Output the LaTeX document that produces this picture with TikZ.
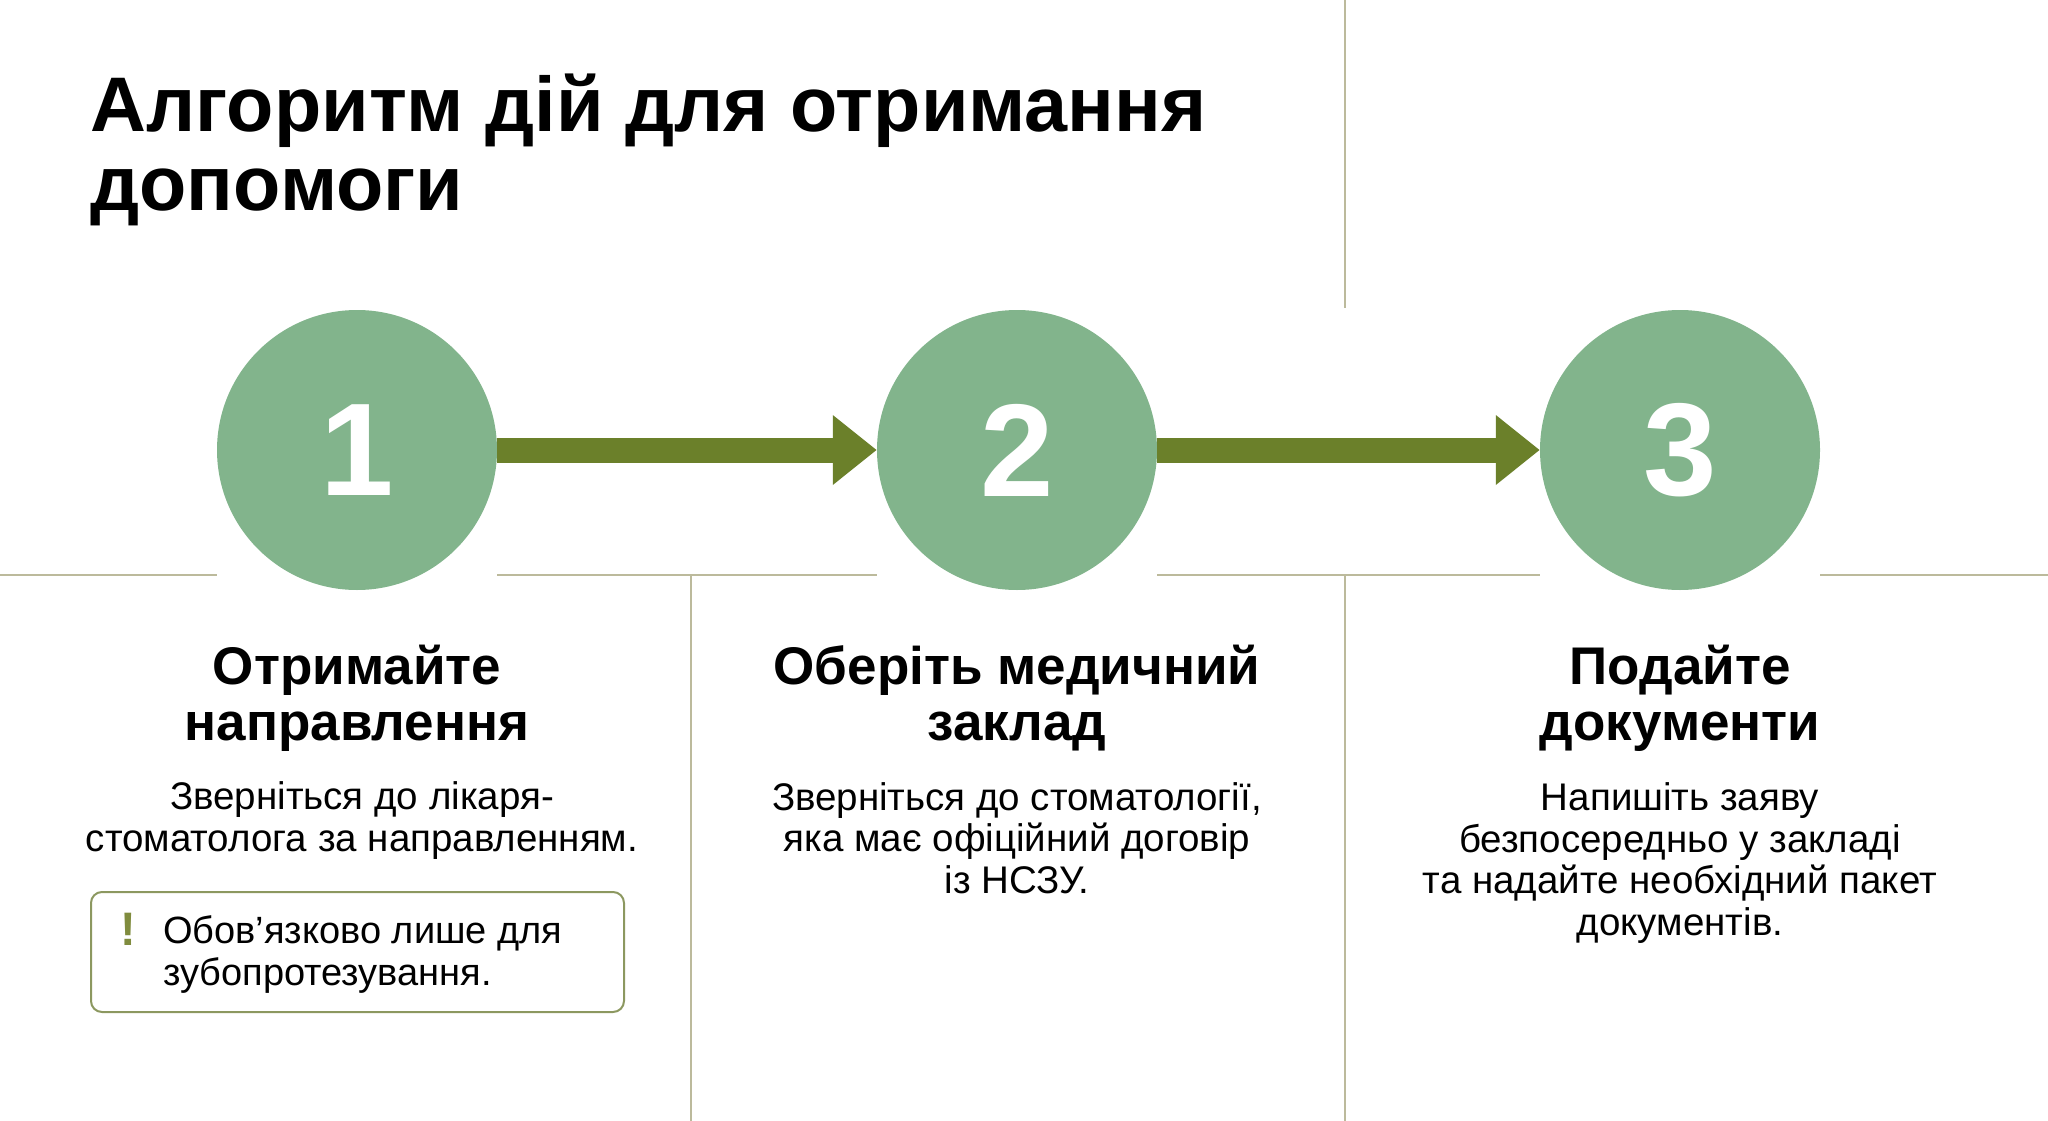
\documentclass[tikz,border=0pt]{standalone}
\usepackage{fontspec}
\setmainfont{Liberation Sans}
\usetikzlibrary{arrows.meta}
\definecolor{stepgreen}{RGB}{130,180,140}
\definecolor{arrowolive}{RGB}{107,128,42}
\definecolor{rulegray}{RGB}{188,186,156}
\definecolor{noteline}{RGB}{140,152,96}
\definecolor{bangolive}{RGB}{128,140,62}

\begin{document}
\begin{tikzpicture}[x=1pt,y=-1pt,
	num/.style={circle,fill=stepgreen,minimum size=280pt,inner sep=0pt,text=white,font=\fontsize{132}{132}\selectfont\bfseries},
	flow/.style={arrowolive,line width=25pt,-{Triangle[length=44pt,width=67pt]}},
	sep/.style={rulegray,line width=2pt},
	head/.style={anchor=base,align=center,font=\fontsize{53}{56}\selectfont\bfseries},
	body/.style={anchor=base,align=center,font=\fontsize{38.5}{41.5}\selectfont}]
	\useasboundingbox (0,0) rectangle (2048,1121);
	\node[anchor=base west,align=left,font=\fontsize{77.4}{79}\selectfont\bfseries] (title) at (87,210) {Алгоритм дій для отримання\\допомоги};
	\node[num] (s1) at (357,450) {1};
	\node[num] (s2) at (1017,450) {2};
	\node[num] (s3) at (1680,450) {3};
	\draw[flow] (s1) -- (s2);
	\draw[flow] (s2) -- (s3);
	\coordinate (h0) at (0,575);
	\coordinate (h1) at (2048,575);
	\coordinate (v1a) at (691,575);
	\coordinate (v1b) at (691,1121);
	\coordinate (v2a) at (1345,0);
	\coordinate (v2b) at (1345,308);
	\coordinate (v2c) at (1345,575);
	\coordinate (v2d) at (1345,1121);
	\draw[sep] (h0) -- (s1.west|-h0) (s1.east|-h0) -- (s2.west|-h0) (s2.east|-h0) -- (s3.west|-h0) (s3.east|-h0) -- (h1);
	\draw[sep] (v1a) -- (v1b) (v2a) -- (v2b) (v2c) -- (v2d);
	\node[head] (t1) at (357,740) {Отримайте\\направлення};
	\node[head] (t2) at (1017,740) {Оберіть медичний\\заклад};
	\node[head] (t3) at (1680,740) {Подайте\\документи};
	\node[body] (d1) at (362,851) {Зверніться до лікаря-\\стоматолога за направленням.};
	\node[body] (d2) at (1017,893) {Зверніться до стоматології,\\яка має офіційний договір\\із НСЗУ.};
	\node[body] (d3) at (1680,935) {Напишіть заяву\\безпосередньо у закладі\\та надайте необхідний пакет\\документів.};
	\node[draw=noteline,line width=2pt,rounded corners=11pt,minimum width=533pt,minimum height=120pt] (note) at (357.5,952) {};
	\node[anchor=base,text=bangolive,font=\fontsize{47}{47}\selectfont\bfseries] (bang) at (128,945) {!};
	\node[anchor=base west,align=left,inner sep=0pt,font=\fontsize{38}{42}\selectfont] (notetext) at (163,985) {Обов’язково лише для\\зубопротезування.};
\end{tikzpicture}
\end{document}
